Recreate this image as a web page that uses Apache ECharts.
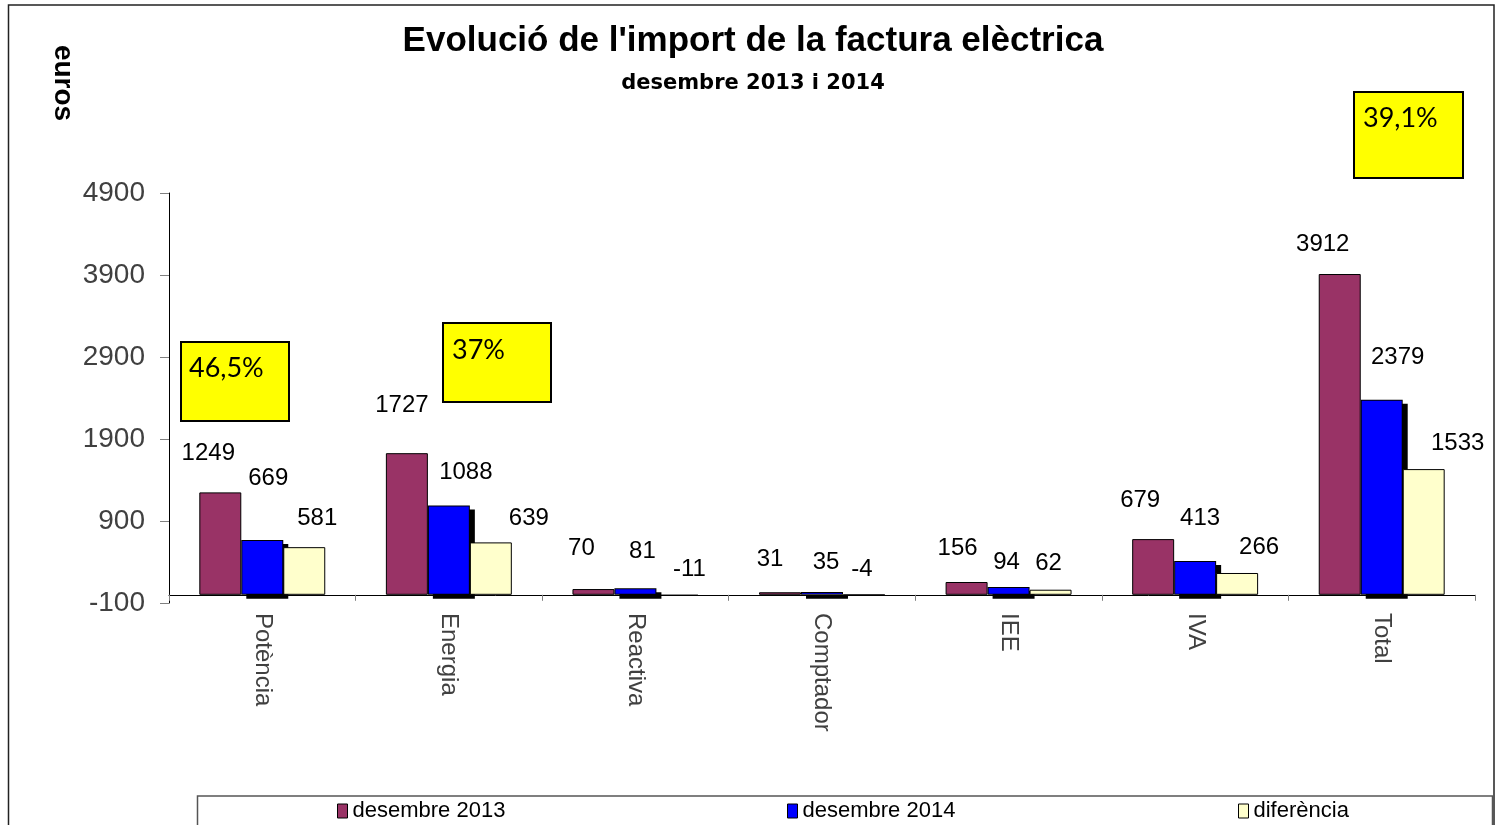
<!DOCTYPE html>
<html>
<head>
<meta charset="utf-8">
<script src="https://cdn.jsdelivr.net/npm/echarts@6/dist/echarts.min.js"></script>
<style>
html,body{margin:0;padding:0;background:#fff;}
#chart{width:1499px;height:825px;}
</style>
</head>
<body>
<div id="chart"></div>
<script>
// ---- data ----
const categories = ['Potència', 'Energia', 'Reactiva', 'Comptador', 'IEE', 'IVA', 'Total'];
const seriesNames = ['desembre 2013', 'desembre 2014', 'diferència'];
const dec2013 = [1249, 1727, 70, 31, 156, 679, 3912];
const dec2014 = [669, 1088, 81, 35, 94, 413, 2379];
const diff = [581, 639, -11, -4, 62, 266, 1533];
const yTicks = [-100, 900, 1900, 2900, 3900, 4900];
const percentNotes = ['46,5%', '37%', '39,1%'];

// ---- label nudges (style only) ----
const nudge2013 = [[-12,-27],[-5,-36],[-12,-29],[-10,-21],[-9,-22],[-13,-27],[-17,-18]];
const nudge2014 = [[6,-50],[17,-21],[7,-25],[4,-18],[-2,-13],[5,-31],[16,-30]];
const nudgeDiff = [[13,-17],[38,-12],[12,-13],[-2,-13],[-2,-14],[22,-14],[34,-14]];

const FONT = "'Liberation Sans', Arial, sans-serif";

function mkData(vals, nudges) {
  return vals.map((v, i) => ({ value: v, label: { offset: nudges[i] } }));
}

const chart = echarts.init(document.getElementById('chart'), null, { renderer: 'canvas' });

const labelBase = {
  show: true, position: 'top', distance: 0,
  fontFamily: FONT, fontSize: 24, color: '#000'
};

function legendAt(left, name) {
  return {
    left: left, top: 800, itemWidth: 10, itemHeight: 14, padding: 0, icon: 'rect',
    data: [name],
    textStyle: { fontFamily: FONT, fontSize: 22, color: '#000' },
    itemStyle: { borderColor: '#000', borderWidth: 1, shadowColor: 'rgba(0,0,0,0)', shadowOffsetX: 0, shadowOffsetY: 0 },
    selectedMode: false
  };
}

function noteBox(x1, y1, x2, y2, text, tx, ty) {
  return {
    type: 'group', children: [
      { type: 'rect', shape: { x: x1, y: y1, width: x2 - x1, height: y2 - y1 },
        style: { fill: '#FFFF00', stroke: '#000', lineWidth: 2 } },
      { type: 'text', x: tx, y: ty,
        style: { text: text, fill: '#000', font: "27px Lato, 'Open Sans', sans-serif",
                 textAlign: 'left', textVerticalAlign: 'middle' } }
    ]
  };
}

const option = {
  animation: false,
  backgroundColor: '#fff',
  title: [
    { text: "Evolució de l'import de la factura elèctrica", left: 753, top: 24, textAlign: 'center', padding: 0,
      textStyle: { fontFamily: FONT, fontWeight: 'bold', fontSize: 35, color: '#000' } },
    { text: 'desembre 2013 i 2014', left: 753, top: 73, textAlign: 'center', padding: 0,
      textStyle: { fontFamily: "'DejaVu Sans', sans-serif", fontWeight: 'bold', fontSize: 21, color: '#000' } }
  ],
  legend: [
    legendAt(337, seriesNames[0]),
    legendAt(787, seriesNames[1]),
    legendAt(1238, seriesNames[2])
  ],
  grid: { left: 169, right: 24, top: 193, bottom: 222, containLabel: false },
  xAxis: {
    type: 'category', data: categories,
    axisLine: { onZero: true, lineStyle: { color: '#000', width: 1 } },
    axisTick: { show: true, length: 6, lineStyle: { color: '#808080' } },
    axisLabel: { rotate: -90, margin: 10, fontFamily: FONT, fontSize: 24, color: '#404040',
                 verticalAlign: 'middle' },
    splitLine: { show: false }
  },
  yAxis: {
    type: 'value', min: -100, max: 4900,
    axisLine: { show: true, lineStyle: { color: '#000', width: 1 } },
    axisTick: { show: true, length: 9, customValues: yTicks, lineStyle: { color: '#808080' } },
    axisLabel: { customValues: yTicks, margin: 24, fontFamily: FONT, fontSize: 28, color: '#404040',
                 formatter: v => String(v) },
    splitLine: { show: false }
  },
  series: [
    { name: seriesNames[0], type: 'bar', barWidth: '22.5%', barGap: '0%',
      data: mkData(dec2013, nudge2013),
      itemStyle: { color: '#993366', borderColor: '#000', borderWidth: 1 },
      label: labelBase, emphasis: { disabled: true } },
    { name: seriesNames[1], type: 'bar', barWidth: '22.5%', barGap: '0%',
      data: mkData(dec2014, nudge2014),
      itemStyle: { color: '#0000FF', borderColor: '#000', borderWidth: 2,
                   shadowColor: '#000', shadowBlur: 0, shadowOffsetX: 5, shadowOffsetY: 4 },
      label: labelBase, emphasis: { disabled: true } },
    { name: seriesNames[2], type: 'bar', barWidth: '22.5%', barGap: '0%',
      data: mkData(diff, nudgeDiff),
      itemStyle: { color: '#FFFFCC', borderColor: '#000', borderWidth: 1 },
      label: labelBase, emphasis: { disabled: true } }
  ],
  graphic: [
    { type: 'rect', shape: { x: 8.5, y: 5, width: 1485.5, height: 830 },
      style: { fill: 'none', stroke: '#222', lineWidth: 1.5 }, silent: true, z: -1 },
    { type: 'rect', shape: { x: 197.5, y: 796, width: 1295, height: 40 },
      style: { fill: 'none', stroke: '#555', lineWidth: 1.5 }, silent: true, z: -1 },
    { type: 'text', x: 63, y: 83, rotation: -Math.PI / 2,
      style: { text: 'euros', fill: '#000', font: "bold 28px 'Liberation Sans', Arial, sans-serif",
               textAlign: 'center', textVerticalAlign: 'middle' } },
    noteBox(181, 342, 289, 421, percentNotes[0], 189, 368),
    noteBox(443, 323, 551, 402, percentNotes[1], 452, 350),
    noteBox(1354, 92, 1463, 178, percentNotes[2], 1363, 118)
  ]
};

chart.setOption(option);

// draw the blue bars' outline before their fill so the drop shadow only shows outside the bar
(function () {
  const data = chart.getModel().getSeriesByIndex(1).getData();
  data.each(function (i) {
    const el = data.getItemGraphicEl(i);
    if (el && el.style) { el.style.strokeFirst = true; el.dirty(); }
  });
  chart.getZr().refreshImmediately();
})();
</script>
</body>
</html>
